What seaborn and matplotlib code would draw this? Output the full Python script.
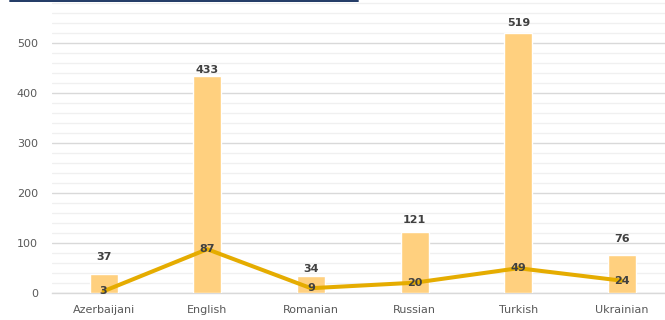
import matplotlib
matplotlib.use("Agg")
import matplotlib.pyplot as plt
from matplotlib.lines import Line2D
from matplotlib.ticker import MultipleLocator, FixedLocator
import numpy as np
import pandas as pd
import seaborn as sns

# Data
languages = ["Azerbaijani", "English", "Romanian", "Russian", "Turkish", "Ukrainian"]
bar_values = [37, 433, 34, 121, 519, 76]
line_values = [3, 87, 9, 20, 49, 24]

# Vertical gap (pixels) between each bar top and the centre of its label
bar_label_gap_px = [17, 6, 7, 12, 10, 16]

BAR_COLOR = "#FFD07F"
LINE_COLOR = "#E5AC00"
TEXT_COLOR = "#404040"
TICK_COLOR = "#595959"

sns.set_theme(style="white")
plt.rcParams["font.family"] = ["DejaVu Sans"]

df = pd.DataFrame({"language": languages, "bars": bar_values, "line": line_values})

W, H, DPI = 665, 320, 100
fig = plt.figure(figsize=(W / DPI, H / DPI), dpi=DPI)
left_px, cat_px, zero_px = 51.7, 103.7, 292.7
ax = fig.add_axes([left_px / W, (H - zero_px) / H, cat_px * 6 / W, zero_px / H])

sns.barplot(data=df, x="language", y="bars", order=languages, color=BAR_COLOR,
            saturation=1, width=0.27, ax=ax, zorder=2)
sns.pointplot(data=df, x="language", y="line", order=languages, color=LINE_COLOR,
              markers="", linewidth=2.9, ax=ax, zorder=3)
for ln in ax.lines:
    ln.set_solid_capstyle("round")
    ln.set_zorder(3)

ymax = zero_px / 0.5
ax.set_xlim(-0.5, 5.5)
ax.set_ylim(0, ymax)

# Gridlines: major every 100, lighter minor every 20
ax.yaxis.set_major_locator(MultipleLocator(100))
ax.yaxis.set_minor_locator(MultipleLocator(20))
ax.grid(axis="y", which="major", color="#D9D9D9", linewidth=1.0, zorder=0)
ax.grid(axis="y", which="minor", color="#F0F0F0", linewidth=1.0, zorder=0)
ax.grid(axis="x", which="both", visible=False)
ax.set_axisbelow(True)

for s in ["top", "right", "left"]:
    ax.spines[s].set_visible(False)
ax.spines["bottom"].set_color("#D9D9D9")
ax.spines["bottom"].set_linewidth(1.0)
ax.spines["bottom"].set_zorder(1)

ax.set_yticks([0, 100, 200, 300, 400, 500])
ax.tick_params(axis="y", which="both", length=0, pad=10, labelsize=8, labelcolor=TICK_COLOR)
ax.tick_params(axis="x", which="major", length=0, pad=9, labelsize=8, labelcolor=TICK_COLOR)
ax.xaxis.set_minor_locator(FixedLocator(np.arange(-0.5, 6.0, 1.0)))
ax.tick_params(axis="x", which="minor", length=4, width=1, color="#D9D9D9", direction="out")
ax.set_xlabel("")
ax.set_ylabel("")

px_to_pt = 72 / DPI
for i, (v, gap) in enumerate(zip(bar_values, bar_label_gap_px)):
    ax.annotate(str(v), (i, v), xytext=(0, gap * px_to_pt), textcoords="offset points",
                ha="center", va="center", fontsize=8, fontweight="bold",
                color=TEXT_COLOR, zorder=5)
for i, v in enumerate(line_values):
    ax.annotate(str(v), (i, v), ha="center", va="center", fontsize=8,
                fontweight="bold", color=TEXT_COLOR, zorder=5)

# Dark rule along the top edge
fig.add_artist(Line2D([10 / W, 358 / W], [1 - 0.8 / H, 1 - 0.8 / H],
                      color="#1F3864", linewidth=1.4, transform=fig.transFigure))

fig.savefig("out.png", dpi=DPI, facecolor="white")
